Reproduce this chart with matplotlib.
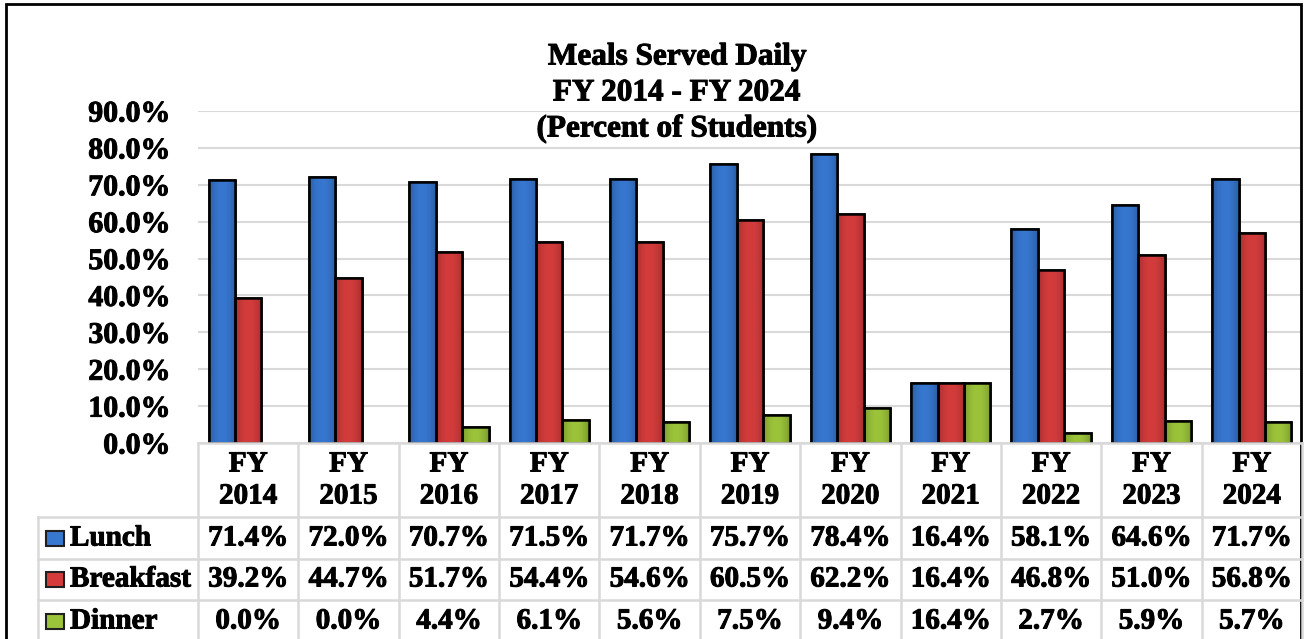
import matplotlib
matplotlib.use("Agg")
import matplotlib.pyplot as plt
import numpy as np
from matplotlib.patches import Rectangle
from matplotlib.lines import Line2D
from matplotlib.colors import to_rgb
import matplotlib.patheffects as pe

# ---------------- data ----------------
categories = ["FY\n2014", "FY\n2015", "FY\n2016", "FY\n2017", "FY\n2018", "FY\n2019",
              "FY\n2020", "FY\n2021", "FY\n2022", "FY\n2023", "FY\n2024"]
series_names = ["Lunch", "Breakfast", "Dinner"]
lunch = [71.4, 72.0, 70.7, 71.5, 71.7, 75.7, 78.4, 16.4, 58.1, 64.6, 71.7]
breakfast = [39.2, 44.7, 51.7, 54.4, 54.6, 60.5, 62.2, 16.4, 46.8, 51.0, 56.8]
dinner = [0.0, 0.0, 4.4, 6.1, 5.6, 7.5, 9.4, 16.4, 2.7, 5.9, 5.7]
yticks = [0, 10, 20, 30, 40, 50, 60, 70, 80, 90]
title_lines = ["Meals Served Daily", "FY 2014 - FY 2024", "(Percent of Students)"]

colors = ["#3777d0", "#d43c3c", "#9cc43a"]
series = [lunch, breakfast, dinner]

# ---------------- figure ----------------
W, H = 1305, 639
fig = plt.figure(figsize=(W / 100, H / 100), dpi=100)
plt.rcParams['font.family'] = ['Liberation Serif', 'DejaVu Serif']
FS_TICK = 21.5
FS_TAB = 21
FS_TITLE = 22.5
PE = [pe.withStroke(linewidth=0.7, foreground="black")]

def fx(px):
    return px / W

def fy(py):
    return 1 - py / H

# outer frame
fig.add_artist(Rectangle((fx(6), fy(660)), fx(1301) - fx(6), fy(4) - fy(660),
                         transform=fig.transFigure, fill=False, edgecolor="black",
                         linewidth=2, clip_on=False))

x_left, x_right = 198, 1302
y_top, y_zero = 111, 443
ax = fig.add_axes([fx(x_left), fy(y_zero), fx(x_right) - fx(x_left), fy(y_top) - fy(y_zero)])
n = len(categories)
ax.set_xlim(-0.5, n - 0.5)
ax.set_ylim(0, 90)
for s in ax.spines.values():
    s.set_visible(False)
ax.set_xticks([])
ax.set_yticks(yticks)
ax.set_yticklabels([f"{v:.1f}%" for v in yticks], fontsize=FS_TICK, fontweight="bold")
for t in ax.get_yticklabels():
    t.set_path_effects(PE)
ax.tick_params(axis="y", length=0, pad=20)
ax.yaxis.grid(True, color="#d9d9d9", linewidth=1.5)
ax.set_axisbelow(True)
ax.patch.set_alpha(0)


def shade(base, n_=64):
    r, g, b = to_rgb(base)
    xs = np.linspace(-1, 1, n_)
    prof = 1 - 0.22 * xs ** 2
    img = np.zeros((40, n_, 3))
    for k, c in enumerate((r, g, b)):
        img[:, :, k] = np.clip(c * prof, 0, 1)
    return img

bw = 0.263
x = np.arange(n)
for i, (vals, col) in enumerate(zip(series, colors)):
    bars = ax.bar(x + (i - 1) * bw, vals, width=bw, color=col, edgecolor="black",
                  linewidth=[1.8 if v > 0 else 0 for v in vals], zorder=3)
    for b in bars:
        h = b.get_height()
        if h <= 0:
            continue
        img = shade(col)
        im = ax.imshow(img, extent=[b.get_x(), b.get_x() + b.get_width(), 0, h],
                       aspect="auto", zorder=3.1, interpolation="bilinear")
        im.set_clip_path(b)
        ax.add_patch(Rectangle((b.get_x(), 0), b.get_width(), h, fill=False,
                               edgecolor="black", linewidth=1.8, zorder=3.2))

# title
for k, line in enumerate(title_lines):
    fig.text(fx(677), fy(57 + 36 * k), line, ha="center", va="center",
             fontsize=FS_TITLE, fontweight="bold", path_effects=PE)

# ---------------- data table ----------------
colw = (x_right - x_left) / n
grid_c = "#d9d9d9"
lw = 1.8
row_tops = [517, 558.5, 600]
row_bottom = 660
tab_left = 38

def hline(y, x0, x1):
    fig.add_artist(Line2D([fx(x0), fx(x1)], [fy(y), fy(y)], transform=fig.transFigure,
                          color=grid_c, linewidth=lw))

def vline(xp, y0, y1):
    fig.add_artist(Line2D([fx(xp), fx(xp)], [fy(y0), fy(y1)], transform=fig.transFigure,
                          color=grid_c, linewidth=lw))

hline(y_zero, x_left, x_right)
for yt in row_tops:
    hline(yt, tab_left, x_right)
for j in range(n + 1):
    vline(x_left + j * colw, y_zero, row_bottom)
vline(tab_left, row_tops[0], row_bottom)

# header text
for j, cat in enumerate(categories):
    cx = x_left + (j + 0.5) * colw
    top, bot = cat.split("\n")
    fig.text(fx(cx), fy(464), top, ha="center", va="center", fontsize=FS_TAB,
             fontweight="bold", path_effects=PE)
    fig.text(fx(cx), fy(496), bot, ha="center", va="center", fontsize=FS_TAB,
             fontweight="bold", path_effects=PE)

row_centers = [538, 579, 621]
for r, (name, vals, col) in enumerate(zip(series_names, series, colors)):
    cy = row_centers[r]
    fig.add_artist(Rectangle((fx(46), fy(cy + 7.5)), fx(64) - fx(46), fy(cy - 7.5) - fy(cy + 7.5),
                             transform=fig.transFigure, facecolor=col, edgecolor="#202020",
                             linewidth=1.5))
    fig.text(fx(70), fy(cy), name, ha="left", va="center", fontsize=FS_TAB,
             fontweight="bold", path_effects=PE)
    for j, v in enumerate(vals):
        cx = x_left + (j + 0.5) * colw
        fig.text(fx(cx), fy(cy), f"{v:.1f}%", ha="center", va="center",
                 fontsize=FS_TAB, fontweight="bold", path_effects=PE)

fig.savefig("out.png", dpi=100)
